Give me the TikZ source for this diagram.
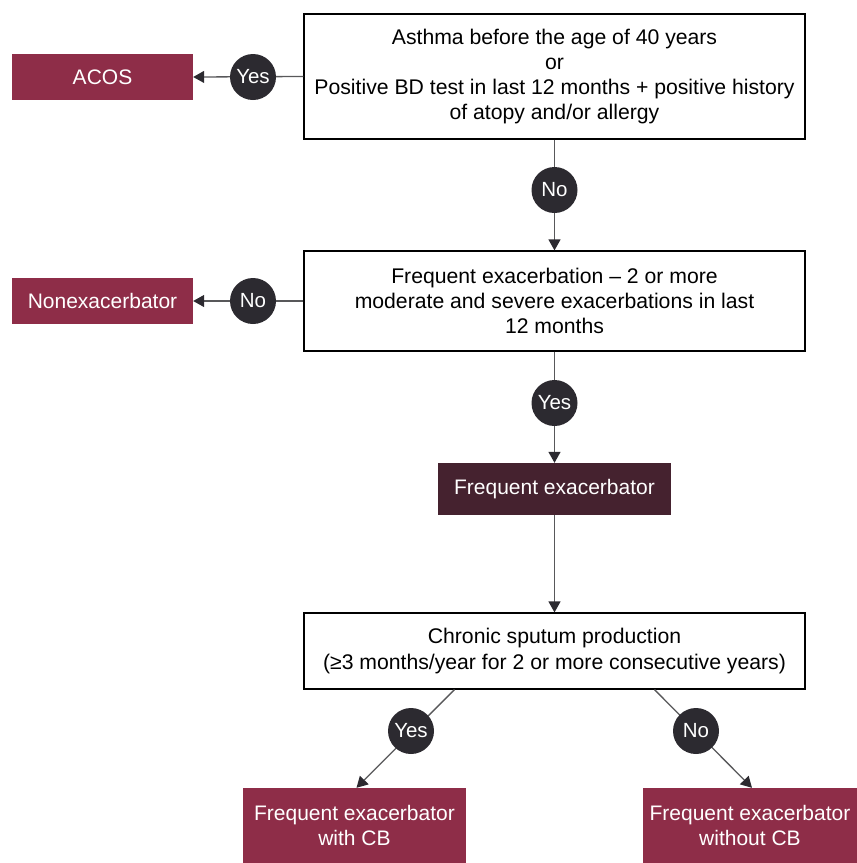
\documentclass[tikz,border=0pt]{standalone}
\usepackage{fontspec}
\setmainfont{Liberation Sans}
\usetikzlibrary{arrows.meta,calc}
\definecolor{wine}{HTML}{8E2D48}
\definecolor{darkwine}{HTML}{45222F}
\definecolor{dot}{HTML}{2C2A30}
\definecolor{linegray}{HTML}{58585A}
\tikzset{
  qbox/.style={draw=black, line width=1.2pt, fill=white, minimum width=501pt, align=center, font=\fontsize{21.2}{25.3}\selectfont, inner sep=0pt},
  outbox/.style={fill=wine, text=white, align=center, font=\fontsize{21}{25}\selectfont, inner sep=0pt},
  ans/.style={circle, fill=dot, text=white, minimum size=46pt, inner sep=0pt, font=\fontsize{20.5}{22}\selectfont},
  conn/.style={draw=linegray, line width=1.3pt, -{Triangle[length=11pt,width=12pt,color=dot]}},
}
\begin{document}
\begin{tikzpicture}[x=1pt,y=-1pt]
\useasboundingbox (0,0) rectangle (857,863);
% question boxes
\node[qbox, minimum height=125pt] (b1) at (554.5,76.5) {Asthma before the age of 40 years\\or\\Positive BD test in last 12 months + positive history\\of atopy and/or allergy};
\node[qbox, minimum height=100pt] (b2) at (554.5,301) {Frequent exacerbation -- 2 or more\\moderate and severe exacerbations in last\\12 months};
\node[qbox, minimum height=76pt] (b3) at (554.5,651) {Chronic sputum production\\(≥3 months/year for 2 or more consecutive years)};
% outcome boxes
\node[outbox, minimum width=181pt, minimum height=46pt] (acos) at (102.5,77) {ACOS};
\node[outbox, minimum width=181pt, minimum height=46pt] (nonex) at (102.5,301) {Nonexacerbator};
\node[outbox, fill=darkwine, minimum width=233pt, minimum height=52pt] (fe) at (554.5,489) {Frequent exacerbator};
\node[outbox, minimum width=223pt, minimum height=75pt] (cb) at (354.5,825.5) {Frequent exacerbator\\with CB};
\node[outbox, minimum width=214pt, minimum height=75pt] (ncb) at (750,825.5) {Frequent exacerbator\\without CB};
% connector anchors on box3 bottom
\coordinate (s1) at ($(b3.south)+(-100,0)$);
\coordinate (s2) at ($(b3.south)+(100,0)$);
\coordinate (t1) at ($(cb.north)+(2,0)$);
\coordinate (t2) at ($(ncb.north)+(2,0)$);
% connectors
\draw[conn] (b1.west) -- (acos.east);
\draw[conn] (b1.south) -- (b2.north);
\draw[conn] (b2.west) -- (nonex.east);
\draw[conn] (b2.south) -- (fe.north);
\draw[conn] (fe.south) -- (b3.north);
\draw[conn] (s1) -- (t1);
\draw[conn] (s2) -- (t2);
% answer circles
\node[ans] (a1) at (253,77) {Yes};
\node[ans] (a2) at (554.5,190) {No};
\node[ans] (a3) at (253,301) {No};
\node[ans] (a4) at (554.5,403) {Yes};
\node[ans] (a5) at (411,731) {Yes};
\node[ans] (a6) at (696,731) {No};
\end{tikzpicture}
\end{document}
